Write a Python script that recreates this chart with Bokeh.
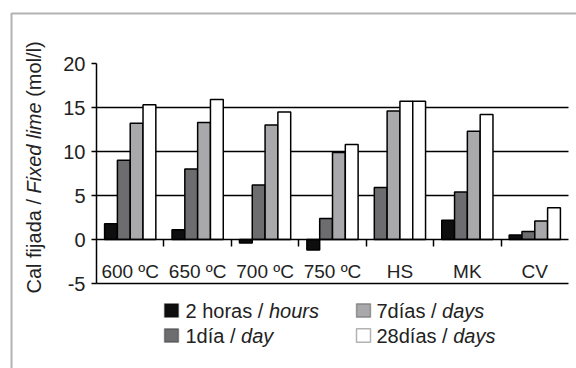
from bokeh.plotting import figure
from bokeh.models import (Range1d, FixedTicker, LinearAxis,
                          ColumnDataSource, Label, BoxAnnotation)
from bokeh.transform import dodge
from bokeh.embed import file_html
from bokeh.resources import INLINE

# ---------------- data ----------------
categories = ["600 ºC", "650 ºC", "700 ºC", "750 ºC", "HS", "MK", "CV"]
hours2 = [1.8, 1.1, -0.4, -1.2, 5.9, 2.2, 0.5]
day1 = [9.0, 8.0, 6.2, 2.4, 14.6, 5.4, 0.9]
days7 = [13.2, 13.3, 13.0, 9.9, 15.7, 12.3, 2.1]
days28 = [15.3, 15.9, 14.5, 10.8, 15.7, 14.2, 3.6]
y_ticks = [-5, 0, 5, 10, 15, 20]
grid_ticks = [-5, 5, 10, 15]
y_min, y_max = -5, 20

series = [hours2, day1, days7, days28]
legend_main = ["2 horas / ", "1día / ", "7días / ", "28días / "]
legend_ital = ["hours", "day", "days", "days"]

# ---------------- styles / layout ----------------
FONT = "Liberation Sans"
TXT = "#222222"
colors = ["#0e0e0e", "#6d6d6f", "#a9a9ab", "#ffffff"]
# in the original, the HS group is drawn with shifted fills
hs_fills = ["#6d6d6f", "#a9a9ab", "#ffffff", "#ffffff"]
offsets = [-0.285, -0.095, 0.095, 0.285]
bar_w = 0.19

CW, CH = 576, 368
PL, PR, PT, PB = 96, 568, 63, 283          # plot box in canvas pixels
n = len(categories)
kx = (PR - PL) / n
ky = (PB - PT) / (y_max - y_min)
x_lo, x_hi = -PL / kx, (CW - PL) / kx
y_hi = y_max + PT / ky
y_lo = y_min - (CH - PB) / ky

centers = [i + 0.5 for i in range(n)]
bounds = list(range(1, n))

p = figure(width=CW, height=CH, x_range=Range1d(x_lo, x_hi),
           y_range=Range1d(y_lo, y_hi), output_backend="svg",
           toolbar_location=None, x_axis_location=None, y_axis_location=None,
           min_border=0)
p.outline_line_color = None
p.background_fill_color = "white"
p.border_fill_color = "white"
p.grid.visible = False

# horizontal grid lines across the plot box
p.segment(x0=0, x1=n, y0=grid_ticks, y1=grid_ticks, line_color="black",
          line_width=1.5)

# bars
for i, vals in enumerate(series):
    fills = [hs_fills[i] if c == "HS" else colors[i] for c in categories]
    src = ColumnDataSource(dict(xc=centers, top=vals, fill=fills))
    p.vbar(x=dodge("xc", offsets[i]), top="top", bottom=0,
           width=bar_w, source=src, fill_color="fill", line_color="black",
           line_width=1.5)

# y axis
ya = LinearAxis(fixed_location=0, bounds=(y_min, y_max),
                ticker=FixedTicker(ticks=y_ticks),
                major_label_overrides={t: str(t) for t in y_ticks},
                major_tick_out=5, major_tick_in=0,
                minor_tick_line_color=None, axis_line_width=1.5,
                major_tick_line_width=1.5, major_label_text_font=FONT,
                major_label_text_font_size="20px",
                major_label_text_color=TXT, major_label_standoff=6)
p.add_layout(ya, "left")

# category axis through y = 0
xa = LinearAxis(fixed_location=0, bounds=(0, n),
                ticker=FixedTicker(ticks=centers),
                major_label_overrides={c: lab for c, lab in zip(centers, categories)},
                major_tick_line_color=None, minor_tick_line_color=None,
                axis_line_width=1.5, major_label_text_font=FONT,
                major_label_text_font_size="19px",
                major_label_text_color=TXT, major_label_standoff=15)
p.add_layout(xa, "below")

# tick marks at the category boundaries
ta = LinearAxis(fixed_location=0, bounds=(0, n),
                ticker=FixedTicker(ticks=bounds),
                major_tick_out=7, major_tick_in=0,
                major_tick_line_width=1.5, axis_line_color=None,
                minor_tick_line_color=None,
                major_label_overrides={t: "" for t in bounds})
p.add_layout(ta, "below")

# y-axis title (mixed styles), screen units (origin bottom-left)
ylab_parts = [("Cal fijada / ", "normal", 75.0),
              ("Fixed lime", "italic", 175.0),
              ("(mol/l)", "normal", 271.7)]
for txt, style, yy in ylab_parts:
    p.add_layout(Label(x=33, y=yy, x_units="screen", y_units="screen",
                       text=txt, angle=1.5707963, text_font=FONT,
                       text_font_style=style, text_font_size="20px",
                       text_color=TXT, text_align="left",
                       text_baseline="middle"))

# legend (manual, for mixed styles)
sq_left = [164, 164, 356, 356]
sq_top = [64.7, 39.7, 64.7, 39.7]
txt_x = [185, 185, 376, 376]
ital_x = [268.4, 240.6, 441.6, 452.7]
mid_y = [58, 33, 58, 33]
for k in range(4):
    p.add_layout(BoxAnnotation(left=sq_left[k], right=sq_left[k] + 14,
                               top=sq_top[k], bottom=sq_top[k] - 13.4,
                               left_units="screen", right_units="screen",
                               top_units="screen", bottom_units="screen",
                               fill_color=colors[k], fill_alpha=1,
                               line_color="black", line_width=1.5))
    p.add_layout(Label(x=txt_x[k], y=mid_y[k], x_units="screen",
                       y_units="screen", text=legend_main[k], text_font=FONT,
                       text_font_size="20px", text_color=TXT,
                       text_baseline="middle"))
    p.add_layout(Label(x=ital_x[k], y=mid_y[k], x_units="screen",
                       y_units="screen", text=legend_ital[k], text_font=FONT,
                       text_font_style="italic", text_font_size="20px",
                       text_color=TXT, text_baseline="middle"))

# outer border (top and left edges visible)
p.add_layout(BoxAnnotation(left=11, right=700, top=355, bottom=-100,
                           left_units="screen", right_units="screen",
                           top_units="screen", bottom_units="screen",
                           fill_alpha=0, line_color="black", line_width=2))

open("out.html", "w").write(file_html(p, INLINE))
